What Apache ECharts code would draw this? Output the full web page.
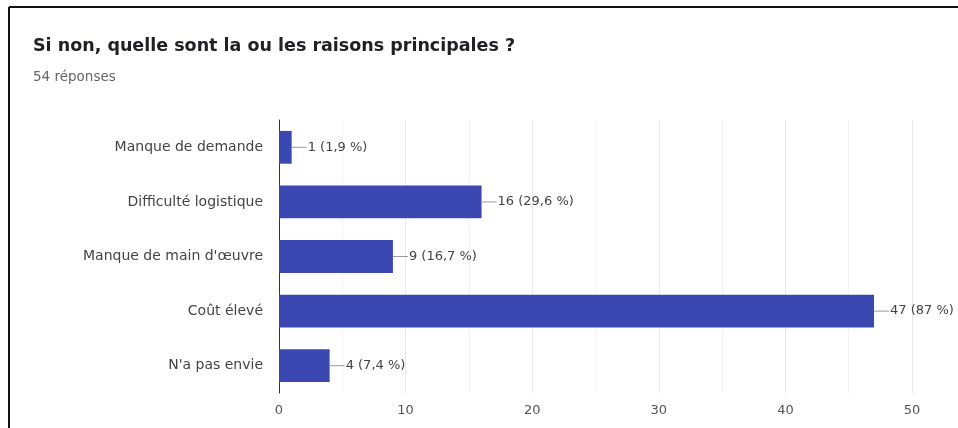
<!DOCTYPE html>
<html>
<head>
<meta charset="utf-8">
<script src="https://cdn.jsdelivr.net/npm/echarts@6/dist/echarts.min.js"></script>
<style>
  html, body { margin: 0; padding: 0; background: #fff; }
  #chart { width: 958px; height: 428px; }
</style>
</head>
<body>
<div id="chart"></div>
<script>
// Survey answers: reasons given, number of responses and share of the 54 answers
const categories = ['Manque de demande', 'Difficulté logistique', "Manque de main d'œuvre", 'Coût élevé', "N'a pas envie"];
const counts = [1, 16, 9, 47, 4];
const shares = ['1,9 %', '29,6 %', '16,7 %', '87 %', '7,4 %'];
const xTicks = [0, 10, 20, 30, 40, 50];

const FONT = '"DejaVu Sans", Verdana, sans-serif';

const chart = echarts.init(document.getElementById('chart'), null, { renderer: 'canvas' });

chart.setOption({
  backgroundColor: '#ffffff',
  animation: false,
  title: {
    text: 'Si non, quelle sont la ou les raisons principales ?',
    subtext: '54 réponses',
    left: 28,
    top: 32,
    itemGap: 15,
    textStyle: { fontFamily: FONT, fontSize: 17.5, fontWeight: 'bold', color: '#202124' },
    subtextStyle: { fontFamily: FONT, fontSize: 13.5, color: '#666666' }
  },
  graphic: [
    { type: 'line', shape: { x1: 9, y1: 7, x2: 958, y2: 7 }, style: { stroke: '#111', lineWidth: 2 } },
    { type: 'line', shape: { x1: 9, y1: 7, x2: 9, y2: 428 }, style: { stroke: '#111', lineWidth: 2 } }
  ],
  grid: { left: 279, right: 46, top: 120, bottom: 35, containLabel: false },
  xAxis: {
    type: 'value',
    min: xTicks[0],
    max: xTicks[xTicks.length - 1],
    interval: xTicks[1] - xTicks[0],
    axisLine: { show: false },
    axisTick: { show: false },
    axisLabel: { color: '#555', fontFamily: FONT, fontSize: 13, margin: 11 },
    splitLine: { show: true, lineStyle: { color: '#e8e8e8', width: 1 } },
    minorTick: { show: false, splitNumber: 2 },
    minorSplitLine: { show: true, lineStyle: { color: '#f2f2f2', width: 1 } }
  },
  yAxis: {
    type: 'category',
    data: categories,
    inverse: true,
    axisLine: { show: true, lineStyle: { color: '#333', width: 1 } },
    axisTick: { show: false },
    axisLabel: { color: '#444', fontFamily: FONT, fontSize: 14, margin: 16 },
    splitLine: { show: false }
  },
  series: [{
    type: 'bar',
    data: counts,
    barCategoryGap: '40%',
    itemStyle: { color: '#3b48b2' },
    label: {
      show: true,
      position: 'right',
      distance: 0,
      formatter: (p) => '{l|}{t|' + counts[p.dataIndex] + ' (' + shares[p.dataIndex] + ')}',
      rich: {
        l: { width: 15, height: 1, backgroundColor: '#9a9a9a' },
        t: { color: '#444', fontFamily: FONT, fontSize: 13, padding: [0, 0, 0, 1] }
      }
    }
  }]
});
</script>
</body>
</html>
